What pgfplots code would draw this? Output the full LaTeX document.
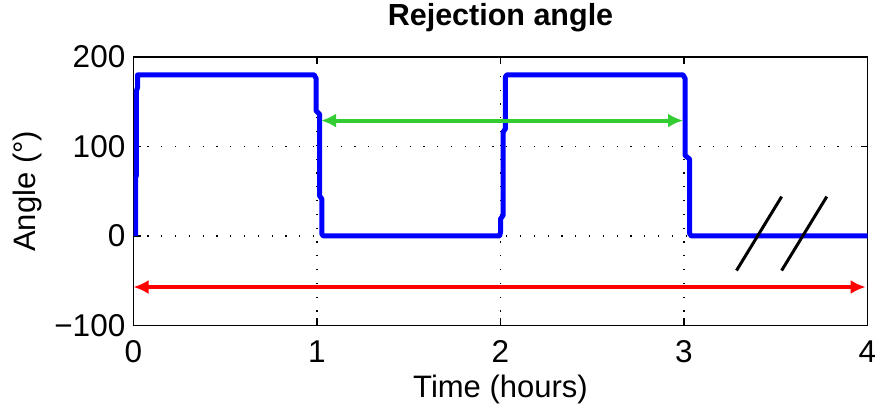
\documentclass[border=0pt]{standalone}
\usepackage{pgfplots}
\pgfplotsset{compat=1.18}
\usepackage{fontspec}
\setmainfont{Liberation Sans}
\usetikzlibrary{arrows.meta}
\definecolor{myblue}{RGB}{0,0,255}
\definecolor{mygreen}{RGB}{51,204,51}
\definecolor{myred}{RGB}{255,0,0}
\begin{document}
\begin{tikzpicture}
\path[use as bounding box] (0,0) rectangle (875pt,409pt);
\begin{axis}[
  at={(133.5pt,83.5pt)}, anchor=south west,
  width=734pt, height=268.5pt, scale only axis,
  xmin=0, xmax=4, ymin=-100, ymax=200,
  xtick={0,1,2,3,4}, ytick={-100,0,100,200},
  xticklabels={0,1,2,3,4}, yticklabels={−100,0,100,200},
  tick align=inside, major tick length=7pt,
  axis line style={line width=1.2pt},
  every tick/.style={black, line width=1.2pt},
  grid=major,
  major grid style={black, line width=1.3pt, dash pattern=on 1.3pt off 12.5pt},
  ticklabel style={font=\fontsize{31.5}{36}\selectfont},
  xticklabel style={anchor=base, yshift=-37pt},
  yticklabel style={anchor=east, inner sep=0pt, xshift=-8pt},
  title={Rejection angle},
  title style={font=\fontsize{30.5}{36}\selectfont\bfseries, at={(axis description cs:0.5,1.094)}, anchor=base},
  xlabel={Time (hours)},
  xlabel style={font=\fontsize{31}{36}\selectfont, at={(axis description cs:0.5,-0.27)}, anchor=base},
  ylabel={Angle (°)},
  ylabel style={font=\fontsize{31}{36}\selectfont, at={(axis description cs:-0.134,0.5)}, anchor=base},
]
\addplot[myblue, line width=5pt, line join=round] coordinates {
 (0.012,0)(0.012,65)(0.016,68)(0.016,162)(0.022,166)(0.022,180)
 (0.985,180)(0.995,176)(0.995,140)(1.014,136)(1.014,45)(1.027,41)(1.027,2)(1.035,0)
 (1.995,0)(2.0,4)(2.0,19)(2.014,23)(2.014,116)(2.027,120)(2.027,178)(2.035,180)
 (2.995,180)(3.006,176)(3.006,90)(3.03,86)(3.03,3)(3.04,0)(4,0)
};
\addplot[mygreen, line width=4pt, {Latex[length=15pt,width=14pt]}-{Latex[length=15pt,width=14pt]}] coordinates {(1.022,129)(2.995,129)};
\addplot[myred, line width=4pt, {Latex[length=15pt,width=14pt]}-{Latex[length=15pt,width=14pt]}] coordinates {(0,-57)(3.99,-57)};
\addplot[black, line width=3pt] coordinates {(3.286,-38.6)(3.532,44)};
\addplot[black, line width=3pt] coordinates {(3.532,-38.6)(3.778,44)};
\end{axis}
\end{tikzpicture}
\end{document}
